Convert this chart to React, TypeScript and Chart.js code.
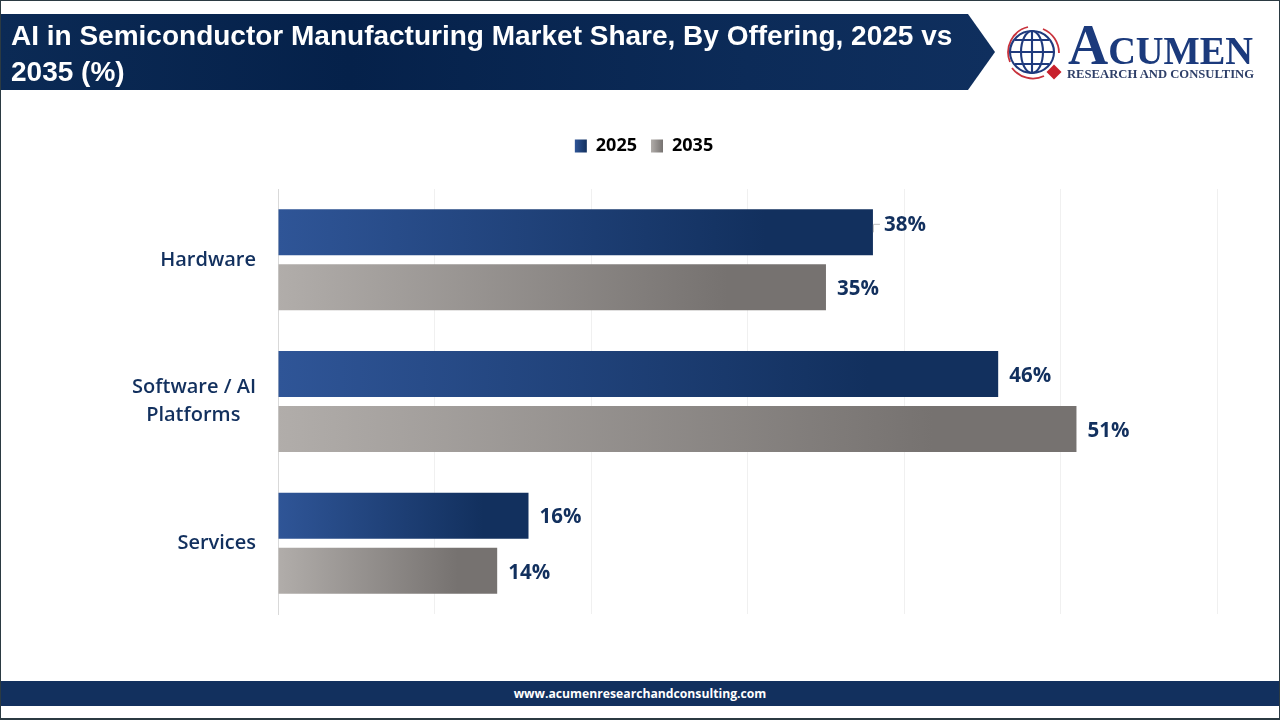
import { useEffect, useRef } from "react"
import { Chart, registerables } from "chart.js"

Chart.register(...registerables)

const NAVY = "#12305e"

const categories = ["Hardware", ["Software / AI", "Platforms\u00a0\u00a0\u00a0"], "Services"]
const seriesNames = ["2025", "2035"]
const share2025 = [38, 46, 16]
const share2035 = [35, 51, 14]
const blueStops = ["#2f5597", "#12305e"]
const grayStops = ["#b1adaa", "#767270"]

const LABEL_FONT = "'Open Sans', sans-serif"

function barGradient(ctx: any, stops: string[]) {
  if (typeof ctx.raw !== "number") return stops[1]
  const xScale = ctx.chart.scales.x
  const x0 = xScale.getPixelForValue(0)
  const x1 = xScale.getPixelForValue(ctx.raw)
  // scales have no size yet on the first pass
  if (!isFinite(x0) || !isFinite(x1)) return stops[1]
  const g = ctx.chart.ctx.createLinearGradient(x0, 0, x1, 0)
  g.addColorStop(0, stops[0])
  g.addColorStop(0.82, stops[1])
  g.addColorStop(1, stops[1])
  return g
}

// legend swatches get the same left to right fade as the bars
const legendFade = {
  id: "legendFade",
  beforeDraw(chart: any) {
    const legend = chart.legend
    legend.legendItems.forEach((item: any, i: number) => {
      const box = legend.legendHitBoxes[i]
      const stops = i === 0 ? blueStops : grayStops
      const g = chart.ctx.createLinearGradient(box.left, 0, box.left + legend.options.labels.boxWidth, 0)
      g.addColorStop(0, stops[0])
      g.addColorStop(1, stops[1])
      item.fillStyle = g
    })
  },
}

// value labels at the end of each bar
const valueLabels = {
  id: "valueLabels",
  afterDatasetsDraw(chart: any) {
    const { ctx } = chart
    ctx.save()
    ctx.font = `700 20.5px ${LABEL_FONT}`
    ctx.fillStyle = NAVY
    ctx.textBaseline = "middle"
    chart.data.datasets.forEach((ds: any, d: number) => {
      chart.getDatasetMeta(d).data.forEach((bar: any, i: number) => {
        // the first label sits a little above its bar, on a leader line
        const moved = d === 0 && i === 0
        const y = moved ? bar.y - 8 : bar.y + 1
        if (moved) {
          ctx.strokeStyle = "#bfbfbf"
          ctx.lineWidth = 1
          ctx.beginPath()
          ctx.moveTo(bar.x + 0.5, bar.y)
          ctx.lineTo(bar.x + 0.5, y)
          ctx.lineTo(bar.x + 7, y)
          ctx.stroke()
        }
        ctx.fillText(`${ds.data[i]}%`, bar.x + 11, y + 1)
      })
    })
    ctx.restore()
  },
}

function Logo() {
  return (
    <svg width={270} height={76} viewBox="1000 14 270 76" style={{ position: "absolute", left: 1000, top: 14 }}>
      <g fill="none" stroke="#c8323c" strokeWidth={1.8}>
        <path d="M1010 62 A26 26 0 0 1 1028 27" />
        <path d="M1043 29 A26 26 0 0 1 1059 53" />
        <path d="M1012 68 A26 26 0 0 0 1044 76" />
      </g>
      <g fill="none" stroke="#1f3a7d" strokeWidth={2.1}>
        <ellipse cx={1032} cy={52} rx={22} ry={21} />
        <ellipse cx={1032} cy={52} rx={11} ry={21} />
        <path d="M1032 31 V73 M1010 52 H1054 M1015 40 H1049 M1015 64 H1049" />
      </g>
      <path d="M1054 64.5 L1061.5 72 L1054 79.5 L1046.5 72 Z" fill="#c8202c" />
      <text x={1068} y={64} fontFamily="'Liberation Serif', serif" fontWeight={700} fill="#1b3a7c" textLength={185} lengthAdjust="spacingAndGlyphs">
        <tspan fontSize={58}>A</tspan>
        <tspan fontSize={40}>CUMEN</tspan>
      </text>
      <text x={1067} y={78} fontFamily="'Liberation Serif', serif" fontWeight={700} fontSize={12.5} fill="#2e3f68" textLength={187} lengthAdjust="spacingAndGlyphs">
        RESEARCH AND CONSULTING
      </text>
    </svg>
  )
}

export default function App() {
  const canvasRef = useRef<HTMLCanvasElement>(null)

  useEffect(() => {
    if (!canvasRef.current) return
    const chart = new Chart(canvasRef.current, {
      type: "bar",
      data: {
        labels: categories as any,
        datasets: [
          { label: seriesNames[0], data: share2025, backgroundColor: (c: any) => barGradient(c, blueStops) },
          { label: seriesNames[1], data: share2035, backgroundColor: (c: any) => barGradient(c, grayStops) },
        ],
      },
      options: {
        indexAxis: "y",
        responsive: false,
        animation: false,
        categoryPercentage: 0.777,
        barPercentage: 0.836,
        layout: { padding: { left: 8, right: 0, top: 123, bottom: 106 } },
        plugins: {
          tooltip: { enabled: false },
          legend: {
            position: "top",
            labels: {
              boxWidth: 12,
              boxHeight: 13,
              padding: 14,
              color: "#000000",
              font: { family: LABEL_FONT, size: 18, weight: "bold" },
            },
          },
        },
        scales: {
          x: {
            // hidden axis on top keeps the gap between legend and plot
            position: "top",
            afterFit: (scale: any) => {
              scale.height = 24
            },
            min: 0,
            max: 64,
            border: { display: false },
            grid: { color: "#f0f0f0", drawTicks: false },
            ticks: { display: false, stepSize: 10, includeBounds: false },
          },
          y: {
            afterFit: (scale: any) => {
              scale.width = 270
            },
            border: { color: "#d9d9d9" },
            grid: { display: false, drawTicks: false },
            ticks: {
              color: NAVY,
              padding: 22,
              font: { family: LABEL_FONT, size: 20, weight: 600, lineHeight: 1.4 },
            },
          },
        },
      },
      plugins: [legendFade, valueLabels],
    })
    return () => chart.destroy()
  }, [])

  return (
    <div style={{ position: "relative", width: 1280, height: 720, overflow: "hidden", background: "#fff", fontFamily: "'Liberation Sans', sans-serif" }}>
      <style>{"body{margin:0}"}</style>
      <canvas ref={canvasRef} width={1280} height={720} style={{ position: "absolute", left: 0, top: 0 }} />
      <div style={{ position: "absolute", inset: 0, border: "1px solid #2b3a42", borderBottomWidth: 2, boxSizing: "border-box", pointerEvents: "none" }} />
      <div
        style={{
          position: "absolute",
          left: 1,
          top: 14,
          width: 994,
          height: 76,
          background: "linear-gradient(90deg, #0b2a55 0%, #05214a 35%, #0c2b58 75%, #0f2f5e 100%)",
          clipPath: "polygon(0 0, 967px 0, 994px 38px, 967px 76px, 0 76px)",
        }}
      />
      <div style={{ position: "absolute", left: 11, top: 18, width: 950, color: "#fff", fontWeight: 700, fontSize: 28, lineHeight: "36px" }}>
        AI in Semiconductor Manufacturing Market Share, By Offering, 2025 vs 2035 (%)
      </div>
      <Logo />
      <div
        style={{
          position: "absolute",
          left: 1,
          right: 1,
          top: 681,
          height: 25,
          background: NAVY,
          color: "#fff",
          textAlign: "center",
          fontFamily: LABEL_FONT,
          fontWeight: 700,
          fontSize: 12.2,
          lineHeight: "25px",
        }}
      >
        www.acumenresearchandconsulting.com
      </div>
    </div>
  )
}
